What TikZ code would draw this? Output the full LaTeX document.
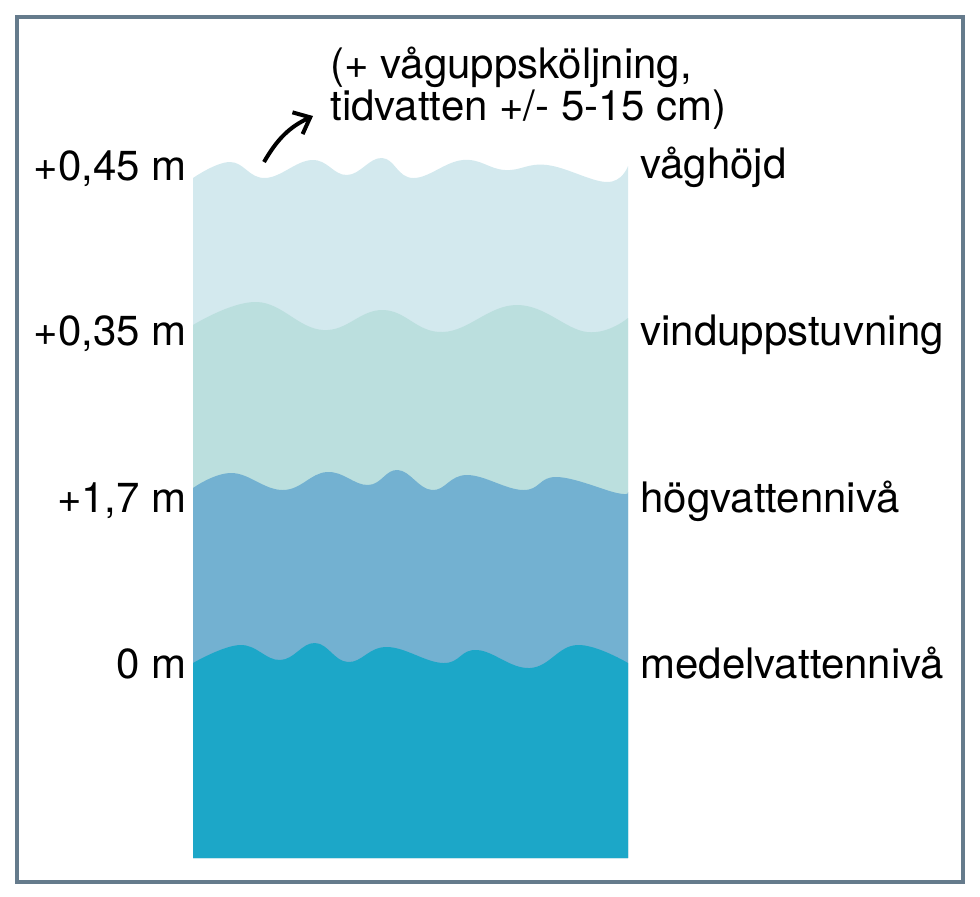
\documentclass[tikz,border=0pt]{standalone}
\usepackage{xcolor}
\usepackage{fontspec}
\setmainfont{TeX Gyre Heros}
\usepackage{tikz}
\usetikzlibrary{positioning}
\usetikzlibrary{arrows.meta}

\definecolor{framecol}{HTML}{657B8C}
\definecolor{layerA}{HTML}{D3E9EE}
\definecolor{layerB}{HTML}{BBDFDE}
\definecolor{layerC}{HTML}{73B1D1}
\definecolor{layerD}{HTML}{1CA7C8}

\tikzset{
  lbl/.style={inner sep=0pt,font=\fontsize{21}{21}\selectfont},
  lleft/.style={lbl,anchor=base east},
  lright/.style={lbl,anchor=base west},
  wavy/.style={smooth,tension=0.7}
}

\begin{document}
\begin{tikzpicture}[x=0.5pt,y=-0.5pt]
  \useasboundingbox (0,0) rectangle (980,896);
  \draw[framecol,line width=1.8pt] (17,17) rectangle (963,882);
	% water layers, top to bottom
  \fill[layerA] (193,858) -- plot[wavy] coordinates {(193,178) (230,162) (265,178) (312,160) (347,175) (382,158) (413,178) (463,160) (505,170) (547,165) (607,182) (628,166)} -- (628,858) -- cycle;
  \fill[layerB] (193,858) -- plot[wavy] coordinates {(193,325) (257,302) (323,330) (383,310) (443,332) (517,305) (587,332) (628,318)} -- (628,858) -- cycle;
  \fill[layerC] (193,858) -- plot[wavy] coordinates {(193,488) (232,473) (283,490) (327,472) (368,485) (398,470) (432,490) (467,475) (523,490) (557,477) (617,493) (628,492)} -- (628,858) -- cycle;
  \fill[layerD] (193,858) -- plot[wavy] coordinates {(193,663) (240,645) (280,660) (315,643) (348,662) (387,647) (443,663) (477,650) (530,668) (577,645) (628,663)} -- (628,858) -- cycle;
	% levels
  \node[lleft] (h45) at (187,180) {+0,45 m};
  \node[lleft] (h35) at (187,345) {+0,35 m};
  \node[lleft] (h17) at (187,512) {+1,7 m};
  \node[lleft] (h0)  at (187,678) {0 m};
  \node[lright] (wave) at (640,178) {våghöjd};
  \node[lright] (wind) at (640,345) {vinduppstuvning};
  \node[lright] (high) at (640,512) {högvattennivå};
  \node[lright] (mean) at (640,678) {medelvattennivå};
  \node[lbl,anchor=north west,align=left] (note) at (330,47) {(+ våguppsköljning,\\tidvatten +/- 5-15 cm)};
	% arrow to the note
  \coordinate (crest) at (264,162);
  \coordinate (tip) at (313,116);
  \draw[-{Straight Barb[length=7pt,width=12pt]},line width=2pt] (crest) to[out=60,in=205] (tip);
\end{tikzpicture}
\end{document}
